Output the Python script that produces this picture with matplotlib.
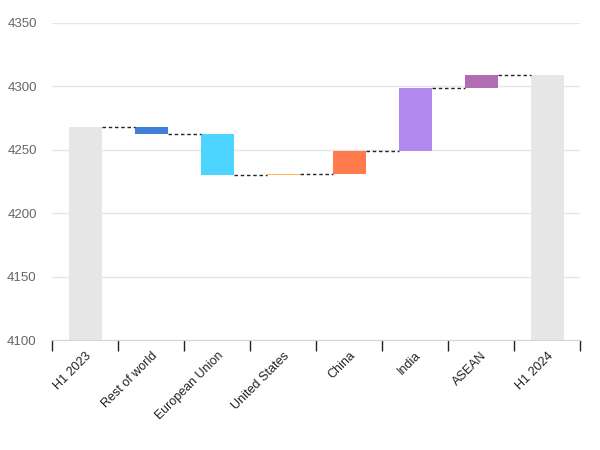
import matplotlib
matplotlib.use('Agg')
import matplotlib.pyplot as plt
import numpy as np

plt.rcParams['font.family'] = ['Liberation Sans', 'DejaVu Sans']

categories = ['H1 2023', 'Rest of world', 'European Union', 'United States',
              'China', 'India', 'ASEAN', 'H1 2024']
start_value = 4267.8
changes = [-5.3, -32.5, 1.3, 17.4, 50.0, 10.5]
colors = ['#e6e6e6', '#4080d8', '#4dd4ff', '#ffb84d', '#ff7a4d',
          '#b388ee', '#b06db4', '#e6e6e6']
yticks = [4100, 4150, 4200, 4250, 4300, 4350]

# waterfall geometry
levels = [start_value]
for c in changes:
    levels.append(levels[-1] + c)
end_value = levels[-1]

bottoms = [0]
heights = [start_value]
for i, c in enumerate(changes):
    lo = min(levels[i], levels[i + 1])
    bottoms.append(lo)
    heights.append(abs(c))
bottoms.append(0)
heights.append(end_value)
connect_levels = levels

fig = plt.figure(figsize=(6, 4.5), dpi=100)
ax = fig.add_axes([0.0867, 0.2444, 0.88, 0.7045])

x = np.arange(len(categories))
w = 0.5
ax.bar(x, heights, bottom=bottoms, width=w, color=colors,
       linewidth=0, zorder=3)

for i in range(len(categories) - 1):
    ax.plot([x[i] + w / 2, x[i + 1] - w / 2], [connect_levels[i]] * 2,
            linestyle=(0, (2.5, 2)), color='#222222', linewidth=1, zorder=4)

ax.set_xlim(-0.5, len(categories) - 0.5)
ax.set_ylim(4100, 4350)
ax.set_yticks(yticks)
ax.set_yticklabels([str(v) for v in yticks])
ax.tick_params(axis='y', length=0, pad=11, labelsize=9.5, labelcolor='#666666')

ax.set_xticks(x)
ax.set_xticklabels(categories, rotation=45, ha='right', rotation_mode='anchor',
                   fontsize=9, color='#222222')
ax.tick_params(axis='x', which='major', length=0, pad=7)
ax.set_xticks(np.arange(-0.5, len(categories)), minor=True)
ax.tick_params(axis='x', which='minor', length=8, width=1, color='#222222')

ax.grid(axis='y', color='#e6e6e6', linewidth=1, zorder=0)
ax.set_axisbelow(True)
for s in ['top', 'right', 'left']:
    ax.spines[s].set_visible(False)
ax.spines['bottom'].set_color('#ccd6eb')
ax.spines['bottom'].set_zorder(5)

fig.savefig('out.png', dpi=100)
